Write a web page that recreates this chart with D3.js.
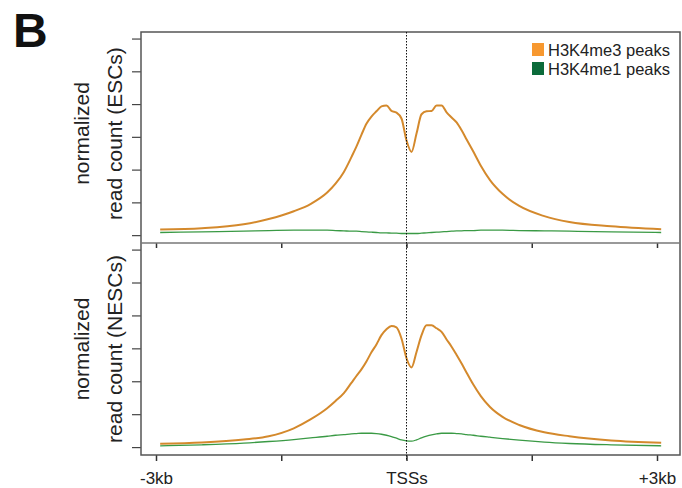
<!DOCTYPE html>
<html>
<head>
<meta charset="utf-8">
<script src="https://cdn.jsdelivr.net/npm/d3@7"></script>
<style>
	body { margin: 0; background: #fff; }
	svg { display: block; }
</style>
</head>
<body>
<div id="chart"></div>
<script>
// positions relative to the TSS (bp), shared by every profile
var positions = [-2950, -2450, -1950, -1650, -1350, -1150, -950, -850, -750, -660, -600, -540, -480, -420, -360, -300, -240, -180, -120, -60,
	0, 60, 120, 180, 240, 300, 360, 420, 480, 540, 600, 660, 720, 800, 890, 1000, 1150, 1350, 1650, 1950, 2450, 3050];

// ESCs
var esc_me3 = [0.17, 0.21, 0.33, 0.49, 0.73, 0.95, 1.30, 1.57, 1.93, 2.38, 2.70, 3.06, 3.40, 3.62, 3.78, 3.93, 3.96, 3.79, 3.74, 3.56,
	2.89, 2.54, 3.10, 3.69, 3.78, 3.79, 3.96, 3.96, 3.75, 3.59, 3.44, 3.20, 2.92, 2.55, 2.12, 1.68, 1.26, 0.89, 0.58, 0.40, 0.27, 0.18];
var esc_me1 = [0.08, 0.10, 0.12, 0.14, 0.15, 0.15, 0.15, 0.14, 0.13, 0.12, 0.12, 0.11, 0.10, 0.09, 0.08, 0.07, 0.07, 0.06, 0.06, 0.05,
	0.05, 0.05, 0.05, 0.06, 0.07, 0.08, 0.09, 0.10, 0.11, 0.12, 0.13, 0.13, 0.14, 0.14, 0.15, 0.15, 0.15, 0.14, 0.13, 0.12, 0.10, 0.08];

// NESCs
var nesc_me3 = [0.10, 0.14, 0.23, 0.33, 0.57, 0.84, 1.18, 1.40, 1.64, 1.95, 2.16, 2.36, 2.60, 2.88, 3.12, 3.40, 3.58, 3.68, 3.64, 3.30,
	2.70, 2.42, 2.89, 3.40, 3.70, 3.70, 3.61, 3.50, 3.27, 3.05, 2.80, 2.54, 2.26, 1.90, 1.55, 1.22, 0.92, 0.67, 0.45, 0.33, 0.20, 0.13];
var nesc_me1 = [0.04, 0.07, 0.12, 0.17, 0.23, 0.28, 0.33, 0.36, 0.38, 0.40, 0.41, 0.42, 0.42, 0.42, 0.41, 0.39, 0.36, 0.32, 0.27, 0.22,
	0.19, 0.18, 0.22, 0.28, 0.33, 0.37, 0.40, 0.42, 0.42, 0.42, 0.41, 0.40, 0.38, 0.36, 0.33, 0.30, 0.26, 0.21, 0.15, 0.11, 0.07, 0.04];

var x_ticks = [-3000, -1500, 0, 1500, 3000];
var x_tick_labels = ["-3kb", "", "TSSs", "", "+3kb"];
var y_ticks = [0, 1, 2, 3, 4, 5, 6];

var legend_labels = ["H3K4me3 peaks", "H3K4me1 peaks"];
var legend_colors = ["#f7982f", "#0b6b3a"];
var line_colors = ["#d4892c", "#3a9a45"];

var panels = [
	{ label: ["normalized", "read count (ESCs)"], me3: esc_me3, me1: esc_me1 },
	{ label: ["normalized", "read count (NESCs)"], me3: nesc_me3, me1: nesc_me1 }
];

var width = 682,
	height = 488;
var left = 141, right = 680;
var panel_tops = [32, 243],
	panel_bottoms = [243, 455];

var svg = d3.select("#chart").append("svg")
	.attr("width", width)
	.attr("height", height)
	.style("font-family", "'Liberation Sans', Arial, sans-serif");

var x = d3.scaleLinear().domain([-3000, 3000]).range([156, 657]);

panels.forEach(function(p, i) {
	var top = panel_tops[i], bottom = panel_bottoms[i];
	var y = d3.scaleLinear().domain([-0.24, 6.2]).range([bottom, top]);

	var g = svg.append("g").attr("class", "panel");

	// y axis, no labels
	var yAxis = g.append("g")
		.attr("transform", "translate(" + left + ",0)")
		.call(d3.axisLeft(y).tickValues(y_ticks).tickSize(9).tickFormat(""));
	yAxis.select(".domain").remove();
	yAxis.selectAll(".tick line").attr("stroke", "#444").attr("stroke-width", 1.2);

	var line = d3.line()
		.x(function(d) { return x(d[0]); })
		.y(function(d) { return y(d[1]); })
		.curve(d3.curveMonotoneX);

	g.append("path")
		.datum(d3.zip(positions, p.me3))
		.attr("d", line)
		.attr("fill", "none")
		.attr("stroke", line_colors[0])
		.attr("stroke-width", 2);
	g.append("path")
		.datum(d3.zip(positions, p.me1))
		.attr("d", line)
		.attr("fill", "none")
		.attr("stroke", line_colors[1])
		.attr("stroke-width", 1.3);

	// x ticks hanging below the panel
	var xAxis = g.append("g")
		.attr("transform", "translate(0," + bottom + ")")
		.call(d3.axisBottom(x).tickValues(x_ticks).tickSize(i == 0 ? 5 : 6)
			.tickFormat(function(d, k) { return i == 0 ? "" : x_tick_labels[k]; }));
	xAxis.select(".domain").remove();
	xAxis.selectAll(".tick line").attr("stroke", "#333").attr("stroke-width", 1.5);
	xAxis.selectAll(".tick text")
		.attr("y", 17)
		.attr("dy", "0.71em")
		.attr("fill", "#222")
		.style("font-family", "'Liberation Sans Narrow', 'Liberation Sans', Arial, sans-serif")
		.style("font-size", "17px");

	// y label
	var cy = (top + bottom) / 2 - (i == 0 ? 4 : 0);
	g.append("text")
		.attr("transform", "translate(82," + cy + ") rotate(-90)")
		.attr("text-anchor", "middle")
		.attr("dy", "0.35em")
		.style("font-size", "21px")
		.attr("fill", "#222")
		.text(p.label[0]);
	g.append("text")
		.attr("transform", "translate(115," + cy + ") rotate(-90)")
		.attr("text-anchor", "middle")
		.attr("dy", "0.35em")
		.style("font-size", "21px")
		.attr("fill", "#222")
		.text(p.label[1]);
});

// frame
svg.append("rect")
	.attr("x", left)
	.attr("y", panel_tops[0])
	.attr("width", right - left)
	.attr("height", panel_bottoms[1] - panel_tops[0])
	.attr("fill", "none")
	.attr("stroke", "#555")
	.attr("stroke-width", 1.5);
svg.append("line")
	.attr("x1", left).attr("x2", right)
	.attr("y1", panel_bottoms[0]).attr("y2", panel_bottoms[0])
	.attr("stroke", "#777")
	.attr("stroke-width", 1.5);

// TSS marker
svg.append("line")
	.attr("x1", x(0)).attr("x2", x(0))
	.attr("y1", panel_tops[0]).attr("y2", panel_bottoms[1] + 5)
	.attr("stroke", "#111")
	.attr("stroke-width", 1)
	.attr("stroke-dasharray", "1.5,1.5");

// legend
var legend = svg.append("g").attr("class", "legend");
legend_labels.forEach(function(lab, k) {
	legend.append("rect")
		.attr("x", 532)
		.attr("y", 43 + k * 19)
		.attr("width", 12)
		.attr("height", 13)
		.attr("fill", legend_colors[k]);
	legend.append("text")
		.attr("x", 548)
		.attr("y", 56 + k * 19)
		.style("font-size", "16.5px")
		.attr("fill", "#222")
		.text(lab);
});

// panel letter
svg.append("text")
	.attr("x", 13)
	.attr("y", 47)
	.style("font-size", "48px")
	.style("font-weight", "bold")
	.attr("fill", "#111")
	.text("B");
</script>
</body>
</html>
